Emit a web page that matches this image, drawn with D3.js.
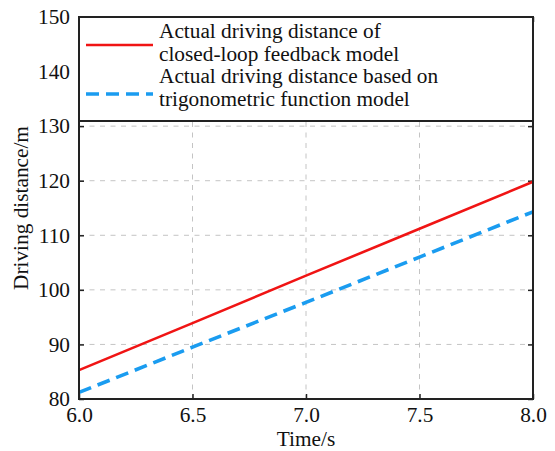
<!DOCTYPE html>
<html><head><meta charset="utf-8">
<script src="https://cdn.jsdelivr.net/npm/d3@7"></script>
<style>body{margin:0;background:#fff;} svg{display:block;}</style>
</head><body>
<svg id="c" width="555" height="451"></svg>
<script>
const timeValues = [6.0, 6.5, 7.0, 7.5, 8.0];
const closedLoop = [85.3, 93.9, 102.6, 111.2, 119.8];
const trigModel = [81.2, 89.5, 97.7, 106.0, 114.3];
const xTicks = [6.0, 6.5, 7.0, 7.5, 8.0];
const yTicks = [80, 90, 100, 110, 120, 130, 140, 150];
const legendLabels = [["Actual driving distance of","closed-loop feedback model"],["Actual driving distance based on","trigonometric function model"]];

const svg = d3.select("#c");
const L = 79, R = 533, T = 17, B = 399;
const x = d3.scaleLinear().domain([6, 8]).range([L, R]);
const y = d3.scaleLinear().domain([80, 150]).range([B, T]);
const font = "'Liberation Serif','Times New Roman',serif";
const FS = 21.3;

// grid
const grid = svg.append("g").attr("stroke", "#c4c4c4").attr("stroke-width", 1).attr("stroke-dasharray", "5,5.5");
grid.selectAll("line.v").data(xTicks.slice(1, -1)).join("line")
  .attr("x1", d => x(d)).attr("x2", d => x(d)).attr("y1", T).attr("y2", B);
grid.selectAll("line.h").data(yTicks.slice(1, -1)).join("line")
  .attr("x1", L).attr("x2", R).attr("y1", d => y(d)).attr("y2", d => y(d));

// axes with inward ticks
const fmt = d3.format(".1f");
const gx = svg.append("g").attr("transform", `translate(0,${B})`)
  .call(d3.axisBottom(x).tickValues(xTicks).tickFormat(fmt).tickSizeInner(-5).tickSizeOuter(0));
gx.selectAll("text").attr("y", 23).attr("dy", 0);
const gxt = svg.append("g").attr("transform", `translate(0,${T})`)
  .call(d3.axisTop(x).tickValues(xTicks).tickFormat("").tickSizeInner(-5).tickSizeOuter(0));
const gy = svg.append("g").attr("transform", `translate(${L},0)`)
  .call(d3.axisLeft(y).tickValues(yTicks).tickSizeInner(-5).tickSizeOuter(0).tickPadding(9));
const gyr = svg.append("g").attr("transform", `translate(${R},0)`)
  .call(d3.axisRight(y).tickValues(yTicks).tickFormat("").tickSizeInner(-5).tickSizeOuter(0));
[gx, gxt, gy, gyr].forEach(g => {
  g.select(".domain").remove();
  g.selectAll(".tick line").attr("stroke", "#222").attr("stroke-width", 1.5);
  g.selectAll("text").attr("font-family", font).attr("font-size", FS).attr("fill", "#111");
});

// lines
const line = d3.line().x((d, i) => x(timeValues[i])).y(d => y(d));
svg.append("path").datum(closedLoop).attr("d", line).attr("fill", "none")
  .attr("stroke", "#f01414").attr("stroke-width", 2.6);
svg.append("path").datum(trigModel).attr("d", line).attr("fill", "none")
  .attr("stroke", "#1a9cf0").attr("stroke-width", 3.6).attr("stroke-dasharray", "13,7");

// legend (spans full plot width)
const lg = svg.append("g");
lg.append("rect").attr("x", L).attr("y", T).attr("width", R - L).attr("height", 121 - T)
  .attr("fill", "#fff").attr("stroke", "#222").attr("stroke-width", 2);
const legStyles = [{c: "#f01414", w: 2.6, d: null, y: 45, ty: 38}, {c: "#1a9cf0", w: 3.6, d: "13,7", y: 94, ty: 83}];
legStyles.forEach((s, i) => {
  const ln = lg.append("line").attr("x1", 86).attr("x2", 153).attr("y1", s.y).attr("y2", s.y)
    .attr("stroke", s.c).attr("stroke-width", s.w);
  if (s.d) ln.attr("stroke-dasharray", s.d);
  legendLabels[i].forEach((t, j) => {
    lg.append("text").attr("x", 159).attr("y", s.ty + j * 23).text(t)
      .attr("font-family", font).attr("font-size", FS).attr("fill", "#111");
  });
});

// frame
svg.append("rect").attr("x", L).attr("y", T).attr("width", R - L).attr("height", B - T)
  .attr("fill", "none").attr("stroke", "#222").attr("stroke-width", 2);

// axis titles
svg.append("text").attr("x", (L + R) / 2).attr("y", 446).attr("text-anchor", "middle")
  .attr("font-family", font).attr("font-size", FS).attr("fill", "#111").text("Time/s");
svg.append("text").attr("transform", `translate(28,${(T + B) / 2}) rotate(-90)`).attr("text-anchor", "middle")
  .attr("font-family", font).attr("font-size", FS).attr("fill", "#111").text("Driving distance/m");
</script>
</body></html>
